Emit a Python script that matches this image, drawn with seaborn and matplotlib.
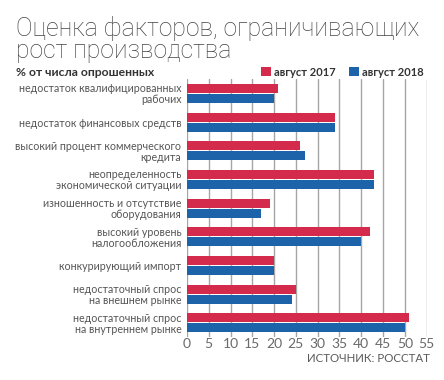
import pandas as pd
import matplotlib.pyplot as plt
import seaborn as sns

# Данные
factors = [
    "недостаток квалифицированных\nрабочих",
    "недостаток финансовых средств",
    "высокий процент коммерческого\nкредита",
    "неопределенность\nэкономической ситуации",
    "изношенность и отсутствие\nоборудования",
    "высокий уровень\nналогообложения",
    "конкурирующий импорт",
    "недостаточный спрос\nна внешнем рынке",
    "недостаточный спрос\nна внутреннем рынке",
]
values_2017 = [21, 34, 26, 43, 19, 42, 20, 25, 51]
values_2018 = [20, 34, 27, 43, 17, 40, 20, 24, 50]
series = ["август 2017", "август 2018"]
x_ticks = list(range(0, 60, 5))

colors = {"август 2017": "#d42a4c", "август 2018": "#1c63a9"}


def main():
    df = pd.DataFrame({
        "factor": factors * 2,
        "value": values_2017 + values_2018,
        "series": [series[0]] * len(factors) + [series[1]] * len(factors),
    })

    sns.set_theme(style="white")
    plt.rcParams["font.family"] = ["Lato", "DejaVu Sans"]
    light = ["Roboto", "DejaVu Sans"]

    fig = plt.figure(figsize=(4.44, 3.8), dpi=100)
    ax = fig.add_axes([0.421, 0.113, 0.54, 0.679])

    sns.barplot(
        data=df, y="factor", x="value", hue="series", orient="h",
        palette=colors, saturation=1, width=0.7, gap=0.1, ax=ax,
        edgecolor="none", linewidth=0,
    )

    ax.set_xlim(0, 55)
    ax.set_xticks(x_ticks)
    ax.set_xlabel("")
    ax.set_ylabel("")
    ax.set_axisbelow(True)
    ax.grid(axis="x", color="#a6a6a6", linewidth=1.0)
    ax.grid(axis="y", visible=False)
    for s in ax.spines.values():
        s.set_visible(False)
    ax.tick_params(axis="x", length=0, pad=1, labelsize=10, labelcolor="#6a6a6a")
    ax.tick_params(axis="y", length=0, pad=4, labelsize=7.7, labelcolor="#555555")
    for lbl in ax.get_yticklabels():
        lbl.set_linespacing(1.0)

    ax.legend(
        loc="center right", bbox_to_anchor=(0.955, 0.81),
        bbox_transform=fig.transFigure, ncol=2, frameon=False,
        borderpad=0, borderaxespad=0,
        handlelength=0.9, handleheight=0.9, handletextpad=0.3,
        columnspacing=1.2, prop={"size": 8, "weight": "bold"},
        labelcolor="#333333",
    )

    fig.text(0.036, 0.958, "Оценка факторов, ограничивающих\nрост производства",
             ha="left", va="top", fontsize=17.8, fontweight="light",
             family=light, color="#444444", linespacing=0.92)
    fig.text(0.036, 0.81, "% от числа опрошенных", ha="left", va="center",
             fontsize=8.7, fontweight="bold", color="#333333")
    fig.text(0.968, 0.057, "ИСТОЧНИК: РОССТАТ", ha="right", va="center",
             fontsize=8.3, color="#5a5a5a")

    fig.savefig("out.png", dpi=100)


if __name__ == "__main__":
    main()
